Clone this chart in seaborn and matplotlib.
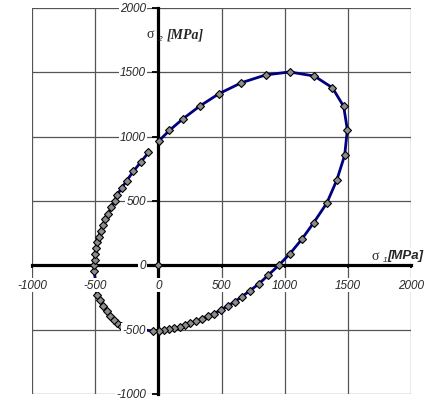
import matplotlib
matplotlib.use("Agg")
import matplotlib.pyplot as plt
import seaborn as sns
import pandas as pd

# ---- data ----
sigma1 = [2, 87, 195, 327, 480, 657, 850, 1040, 1235, 1378, 1467, 1496, 1475, 1412,
          1333, 1230, 1135, 1042, 955, 871, 798, 725, 662, 603, 548, 493, 441, 393,
          345, 301, 253, 211, 169, 127, 84, 42, 2, -40,
          -298, -325, -352, -380, -409, -439, -465, -486,
          -507, -510, -504, -499, -494, -483, -470, -457, -439, -420, -399, -371,
          -346, -324, -288, -250, -198, -141, -78]
sigma2 = [965, 1048, 1139, 1237, 1334, 1419, 1480, 1503, 1471, 1380, 1235, 1054, 856, 661,
          483, 332, 202, 91, 2, -75, -142, -197, -243, -283, -316, -348, -375, -397,
          -417, -436, -451, -467, -480, -490, -498, -506, -508, -512,
          -472, -451, -425, -394, -358, -316, -272, -228,
          -44, 0, 44, 91, 135, 180, 224, 267, 311, 357, 400, 455,
          503, 550, 604, 659, 730, 800, 877]
origin_x = [0]
origin_y = [0]
ticks = [-1000, -500, 0, 500, 1000, 1500, 2000]
tick_labels = ["-1000", "-500", "0", "500", "1000", "1500", "2000"]

df = pd.DataFrame({"s1": sigma1, "s2": sigma2, "order": range(len(sigma1))})

sns.set_style("white")
plt.rcParams["font.family"] = ["Liberation Sans", "DejaVu Sans"]

fig = plt.figure(figsize=(4.25, 4.02), dpi=100)
ax = fig.add_axes([0.0753, 0.0174, 0.8918, 0.9602])

sns.lineplot(data=df, x="s1", y="s2", sort=False, estimator=None, ax=ax,
             color="#000080", linewidth=2.0, marker="D", markersize=3.9,
             markerfacecolor="#8c8c8c", markeredgecolor="black",
             markeredgewidth=0.8, zorder=3)
sns.scatterplot(x=origin_x, y=origin_y, ax=ax, marker="D", s=15, color="#8c8c8c",
                edgecolor="black", linewidth=0.8, zorder=4)

ax.set_xlim(-1000, 2000)
ax.set_ylim(-1000, 2000)
ax.set_xticks(ticks)
ax.set_yticks(ticks)
ax.set_xlabel("")
ax.set_ylabel("")
ax.grid(True, color="#555555", linewidth=0.9)
for gl in ax.get_xgridlines() + ax.get_ygridlines():
    gl.set_clip_on(False)
ax.set_axisbelow(True)

for s in ["top", "right"]:
    ax.spines[s].set_visible(False)
ax.spines["left"].set_position(("data", 0))
ax.spines["bottom"].set_position(("data", 0))
for s in ["left", "bottom"]:
    ax.spines[s].set_linewidth(2.3)
    ax.spines[s].set_color("black")
    ax.spines[s].set_zorder(2.5)

ax.tick_params(axis="y", direction="out", length=4, width=1.3, color="black",
               left=True, labelleft=False)
ax.tick_params(axis="x", direction="out", length=2.5, width=1.3, color="black",
               bottom=True, labelbottom=False)

bb = dict(facecolor="white", edgecolor="none", pad=0.8)
for v, lab in zip(ticks, tick_labels):
    ax.annotate(lab, xy=(0, v), xytext=(-9, 0), textcoords="offset points",
                ha="right", va="center", fontsize=8.5, style="italic",
                bbox=bb, zorder=5, annotation_clip=False)
    ax.annotate(lab, xy=(v, 0), xytext=(0, -10), textcoords="offset points",
                ha="center", va="top", fontsize=8.5, style="italic",
                bbox=bb, zorder=5, annotation_clip=False)

# axis titles
ax.text(-95, 1800, "σ", fontsize=10, family=["Liberation Serif", "DejaVu Serif"],
        ha="left", va="center", zorder=5,
        bbox=dict(facecolor="white", edgecolor="none", pad=0.5))
ax.text(-8, 1765, "2", fontsize=6, style="italic", ha="left", va="center", zorder=5)
ax.text(66, 1800, "[MPa]", fontsize=10, family=["Liberation Serif", "DejaVu Serif"],
        style="italic", weight="bold", ha="left", va="center", zorder=5,
        bbox=dict(facecolor="white", edgecolor="none", pad=0.5))

ax.text(1685, 75, "σ", fontsize=10, family=["Liberation Serif", "DejaVu Serif"],
        ha="left", va="center", zorder=5, clip_on=False)
ax.text(1776, 45, "1", fontsize=6, style="italic", ha="left", va="center", zorder=5,
        clip_on=False)
ax.text(1812, 80, "[MPa]", fontsize=9.5, style="italic", weight="bold",
        ha="left", va="center", zorder=5, clip_on=False,
        bbox=dict(facecolor="white", edgecolor="none", pad=0.5))

fig.savefig("out.png", dpi=100)
